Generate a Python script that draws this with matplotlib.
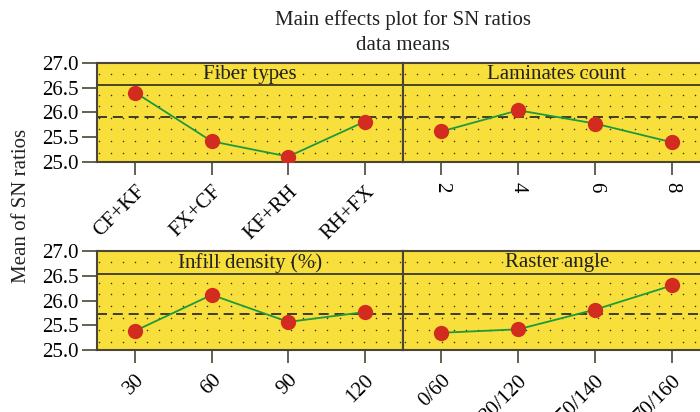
import numpy as np
import matplotlib
matplotlib.use("Agg")
import matplotlib.pyplot as plt

plt.rcParams['font.family'] = ['Liberation Serif', 'DejaVu Serif']

# data
fiber_labels = ["CF+KF", "FX+CF", "KF+RH", "RH+FX"]
fiber_sn = [26.40, 25.41, 25.10, 25.81]
lam_labels = ["2", "4", "6", "8"]
lam_sn = [25.61, 26.04, 25.77, 25.39]
infill_labels = ["30", "60", "90", "120"]
infill_sn = [25.39, 26.12, 25.57, 25.77]
raster_labels = ["0/60", "30/120", "50/140", "70/160"]
raster_sn = [25.35, 25.42, 25.82, 26.31]
mean_top = 25.91
mean_bottom = 25.73
yticks = [25.0, 25.5, 26.0, 26.5, 27.0]

yellow = '#f8df3c'
edge = '#4a4535'

fig = plt.figure(figsize=(7, 4.12), dpi=100)

def panel(rect, title, labels, vals, mean, show_y, rot):
    ax = fig.add_axes(rect)
    ax.set_facecolor(yellow)
    x = np.arange(1, len(vals) + 1)
    ax.set_xlim(0.5, 4.5)
    ax.set_ylim(25.0, 27.0)
    # dotted background grid
    gx = np.arange(0.53, 4.6, 0.157)
    gy = [25.17, 25.41, 25.65, 25.89, 26.13, 26.36, 26.78]
    GX, GY = np.meshgrid(gx, gy)
    ax.scatter(GX.ravel(), GY.ravel(), s=1.2, c='#333322', lw=0, zorder=1)
    ax.axhline(26.55, color='#2b2b22', lw=1.2, zorder=2)
    ax.axhline(mean, color='#222222', lw=1.2, ls=(0, (6, 3.5)), zorder=2)
    ax.text(2.5, 26.775, title, ha='center', va='center', fontsize=15,
            color='#222222', zorder=3)
    ax.plot(x, vals, color='#1c9a3c', lw=1.3, zorder=3)
    ax.plot(x, vals, 'o', color='#d22b1f', ms=11, mec='none', zorder=4)
    ax.set_xticks(x)
    if rot == 45:
        ax.set_xticklabels(labels, rotation=45, ha='right', va='top',
                           rotation_mode='anchor', fontsize=15)
    else:
        ax.set_xticklabels(labels, rotation=270, ha='center', va='top',
                           fontsize=15)
    ax.tick_params(axis='x', length=9, width=1.2, color=edge, pad=6)
    ax.set_yticks(yticks)
    if show_y:
        ax.set_yticklabels(['%.1f' % v for v in yticks], fontsize=15)
        ax.tick_params(axis='y', length=11, width=1.2, color=edge, pad=2)
    else:
        ax.tick_params(axis='y', length=0, labelleft=False)
    for s in ax.spines.values():
        s.set_color(edge)
        s.set_linewidth(1.5)
    return ax

w = 306 / 700
h = 98.5 / 412
panel([97 / 700, 0.608, w, h], "Fiber types", fiber_labels, fiber_sn, mean_top, True, 45)
panel([403 / 700, 0.608, w + 0.002, h], "Laminates count", lam_labels, lam_sn, mean_top, False, 270)
panel([97 / 700, 0.1505, w, h], "Infill density (%)", infill_labels, infill_sn, mean_bottom, True, 45)
panel([403 / 700, 0.1505, w + 0.002, h], "Raster angle", raster_labels, raster_sn, mean_bottom, False, 45)

fig.text(403 / 700, 1 - 20 / 412, "Main effects plot for SN ratios", ha='center',
         va='center', fontsize=15, color='#222222')
fig.text(403 / 700, 1 - 45 / 412, "data means", ha='center', va='center',
         fontsize=15, color='#222222')
fig.text(22 / 700, 0.5, "Mean of SN ratios", rotation=90, ha='center',
         va='center', fontsize=15, color='#222222')

fig.savefig("out.png", dpi=100)
